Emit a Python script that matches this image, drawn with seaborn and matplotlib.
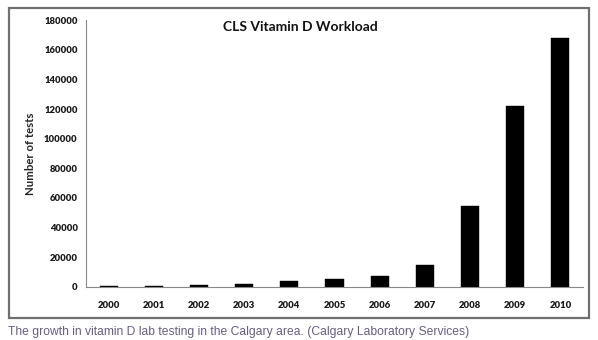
import matplotlib
matplotlib.use("Agg")
import matplotlib.pyplot as plt
import seaborn as sns
import pandas as pd
import numpy as np
from matplotlib.patches import Rectangle

years = ["2000", "2001", "2002", "2003", "2004", "2005", "2006", "2007", "2008", "2009", "2010"]
tests = [500, 500, 1200, 1800, 3850, 5400, 7000, 14600, 54500, 122000, 167800]
yticks = [0, 20000, 40000, 60000, 80000, 100000, 120000, 140000, 160000, 180000]

df = pd.DataFrame({"year": years, "tests": tests})

sns.set_theme(style="white")
plt.rcParams['font.family'] = ['Lato', 'DejaVu Sans']

fig = plt.figure(figsize=(5.98, 3.40), dpi=100)
fig.patch.set_facecolor("white")
ax = fig.add_axes([86/598, (340-286.7)/340, (583-86)/598, (286.7-20.3)/340])

sns.barplot(data=df, x="year", y="tests", color="black", width=0.4, ax=ax,
            saturation=1, edgecolor="black", linewidth=0.3)

ax.set_ylim(0, 180000)
ax.set_xlim(-0.5, len(years) - 0.5)
ax.set_yticks(yticks)
ax.set_yticklabels([str(v) for v in yticks], fontsize=6.8, fontweight="heavy", color="#1a1a1a")
ax.set_xticks(range(len(years)))
ax.set_xticklabels(years, fontsize=6.8, fontweight="heavy", color="#1a1a1a")
ax.set_xticks(np.arange(-0.5, len(years), 1), minor=True)
ax.tick_params(axis="x", which="major", length=0, pad=10)
ax.tick_params(axis="x", which="minor", length=3, color="#888888", direction="out")
ax.tick_params(axis="y", which="major", length=3, color="#888888", direction="out", pad=3)

for s in ["top", "right"]:
    ax.spines[s].set_visible(False)
for s in ["left", "bottom"]:
    ax.spines[s].set_color("#888888")
    ax.spines[s].set_linewidth(0.8)

ax.set_xlabel("")
ax.set_ylabel("Number of tests", fontsize=8.2, fontweight="bold", labelpad=6)
fig.text(300/598, (340-27)/340, "CLS Vitamin D Workload", ha="center",
         va="center", fontsize=10, fontweight="bold", color="#111111")

fig.patches.append(Rectangle((9/598, (340-318)/340), (589-9)/598, (318-8)/340,
                             transform=fig.transFigure, fill=False,
                             edgecolor="#707070", linewidth=1.6))

fig.text(8/598, (340-332)/340, "The growth in vitamin D lab testing in the Calgary area. (Calgary Laboratory Services)",
         fontsize=8.7, color="#6b5e80", family=["Liberation Sans", "DejaVu Sans"], va="center", ha="left")

fig.savefig("out.png", dpi=100, facecolor="white")
